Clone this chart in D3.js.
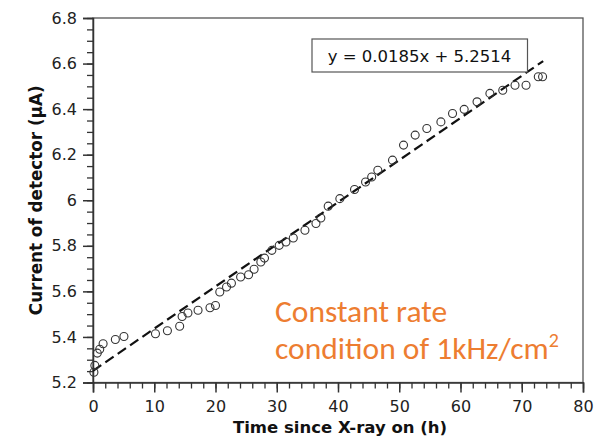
<!DOCTYPE html>
<html>
<head>
<meta charset="utf-8">
<script src="https://cdn.jsdelivr.net/npm/d3@7"></script>
<style>
  html, body { margin: 0; padding: 0; background: #fff; }
  svg { display: block; }
</style>
</head>
<body>
<svg id="chart" width="595" height="440"></svg>
<script>
// ---- data ----
const timeHours = [0.15, 0.3, 0.7, 1.1, 1.65, 3.65, 5.05, 10.2, 12.15, 14.15, 14.55, 15.5, 17.15, 19.1, 20.0,
  20.7, 21.8, 22.6, 24.1, 25.4, 26.3, 27.4, 28.0, 29.2, 30.4, 31.5, 32.7, 34.6, 36.4, 37.2,
  38.4, 40.3, 42.7, 44.5, 45.5, 46.5, 48.9, 50.7, 52.6, 54.5, 56.8, 58.7, 60.6, 62.7, 64.8,
  66.9, 68.9, 70.7, 72.7, 73.4];
const currentUA = [5.245, 5.275, 5.329, 5.346, 5.37, 5.389, 5.402, 5.414, 5.427, 5.447, 5.49, 5.505, 5.517, 5.528, 5.538,
  5.597, 5.619, 5.636, 5.663, 5.673, 5.697, 5.729, 5.746, 5.78, 5.802, 5.817, 5.834, 5.868, 5.898, 5.922,
  5.974, 6.007, 6.047, 6.08, 6.102, 6.132, 6.176, 6.242, 6.286, 6.315, 6.344, 6.381, 6.399, 6.432, 6.469,
  6.483, 6.505, 6.505, 6.542, 6.542];
const fitX = [0, 73.5];
const fitY = [5.2514, 6.611];
const xTicks = [0, 10, 20, 30, 40, 50, 60, 70, 80];
const yTicks = [5.2, 5.4, 5.6, 5.8, 6.0, 6.2, 6.4, 6.6, 6.8];
const yTickLabels = ["5.2", "5.4", "5.6", "5.8", "6", "6.2", "6.4", "6.6", "6.8"];
const equationText = "y = 0.0185x + 5.2514";
const xLabel = "Time since X-ray on (h)";
const yLabel = "Current of detector (\u00B5A)";
const noteLine1 = "Constant rate";
const noteLine2 = "condition of 1kHz/cm";

// ---- layout ----
const svg = d3.select("#chart");
const L = 93, R = 583, T = 18, B = 382.5;
const x = d3.scaleLinear().domain([0, 80]).range([L, R]);
const y = d3.scaleLinear().domain([5.2, 6.8]).range([B, T]);
const axisColor = "#333";
const font = "'DejaVu Sans', Verdana, sans-serif";

// frame
svg.append("rect").attr("x", L).attr("y", T).attr("width", R - L).attr("height", B - T)
  .attr("fill", "none").attr("stroke", "#555").attr("stroke-width", 1.3);

// x axis minor
const xMinor = d3.range(0, 81, 2);
svg.append("g").attr("transform", `translate(0,${B})`)
  .call(d3.axisBottom(x).tickValues(xMinor).tickSize(6).tickFormat(""))
  .call(g => g.select(".domain").remove())
  .call(g => g.selectAll("line").attr("stroke", axisColor).attr("stroke-width", 1.3));
// x axis major
svg.append("g").attr("transform", `translate(0,${B})`)
  .call(d3.axisBottom(x).tickValues(xTicks).tickSize(10).tickPadding(8).tickFormat(d3.format("d")))
  .call(g => g.select(".domain").attr("stroke", axisColor).attr("stroke-width", 1.5))
  .call(g => g.selectAll("line").attr("stroke", axisColor).attr("stroke-width", 1.5))
  .call(g => g.selectAll("text").attr("fill", "#222").style("font-family", font).style("font-size", "16px"));

// y axis minor
const yMinor = d3.range(0, 33).map(i => 5.2 + i * 0.05);
svg.append("g").attr("transform", `translate(${L},0)`)
  .call(d3.axisLeft(y).tickValues(yMinor).tickSize(6).tickFormat(""))
  .call(g => g.select(".domain").remove())
  .call(g => g.selectAll("line").attr("stroke", axisColor).attr("stroke-width", 1.3));
// y axis major
svg.append("g").attr("transform", `translate(${L},0)`)
  .call(d3.axisLeft(y).tickValues(yTicks).tickSize(10).tickPadding(6)
    .tickFormat((d, i) => yTickLabels[i]))
  .call(g => g.select(".domain").attr("stroke", axisColor).attr("stroke-width", 1.5))
  .call(g => g.selectAll("line").attr("stroke", axisColor).attr("stroke-width", 1.5))
  .call(g => g.selectAll("text").attr("fill", "#222").style("font-family", font).style("font-size", "16px"));

// axis labels
svg.append("text").attr("x", (L + R) / 2 + 2).attr("y", 433)
  .attr("text-anchor", "middle").style("font-family", font).style("font-size", "16.5px")
  .style("font-weight", "bold").attr("fill", "#111").text(xLabel);
svg.append("text").attr("transform", `translate(42,${(T + B) / 2}) rotate(-90)`)
  .attr("text-anchor", "middle").style("font-family", font).style("font-size", "16.8px")
  .style("font-weight", "bold").attr("fill", "#111").text(yLabel);

// regression line
svg.append("line")
  .attr("x1", x(fitX[0])).attr("y1", y(fitY[0]))
  .attr("x2", x(fitX[1])).attr("y2", y(fitY[1]))
  .attr("stroke", "#111").attr("stroke-width", 2.2).attr("stroke-dasharray", "10,5");

// points
svg.append("g").selectAll("circle").data(timeHours).join("circle")
  .attr("cx", d => x(d)).attr("cy", (d, i) => y(currentUA[i])).attr("r", 4)
  .attr("fill", "none").attr("stroke", "#333").attr("stroke-width", 1.1);

// equation box
svg.append("rect").attr("x", 312).attr("y", 39).attr("width", 215.5).attr("height", 33)
  .attr("fill", "#fff").attr("stroke", "#555").attr("stroke-width", 1.2);
svg.append("text").attr("x", 419.5).attr("y", 61.5).attr("text-anchor", "middle")
  .style("font-family", font).style("font-size", "16.5px").attr("fill", "#111").text(equationText);

// annotation
const noteFont = "Carlito, Lato, 'Open Sans', sans-serif";
svg.append("text").attr("x", 275).attr("y", 321.5).attr("fill", "#ED7D31")
  .style("font-family", noteFont).style("font-size", "31.5px").text(noteLine1);
const t2 = svg.append("text").attr("x", 275).attr("y", 359).attr("fill", "#ED7D31")
  .style("font-family", noteFont).style("font-size", "31.5px");
t2.append("tspan").text(noteLine2);
t2.append("tspan").attr("dy", -12).style("font-size", "20px").text("2");
</script>
</body>
</html>
